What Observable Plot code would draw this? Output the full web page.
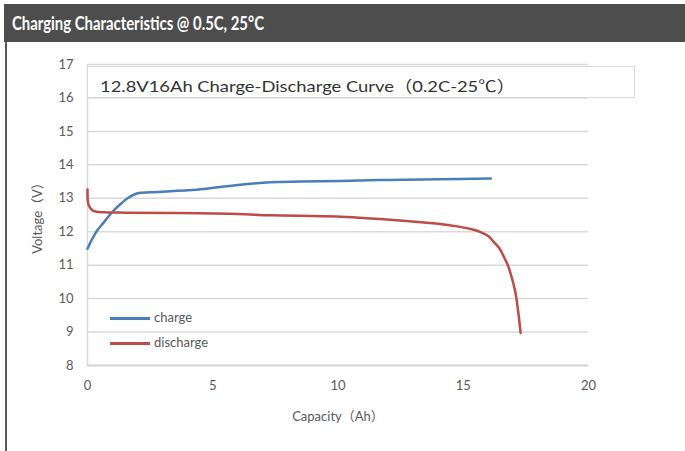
<!DOCTYPE html>
<html>
<head>
<meta charset="utf-8">
<script src="https://cdn.jsdelivr.net/npm/d3@7"></script>
<script src="https://cdn.jsdelivr.net/npm/@observablehq/plot@0.6"></script>
<style>
  html, body { margin: 0; padding: 0; background: #fff; }
  #page { position: relative; width: 685px; height: 451px; overflow: hidden; font-family: Lato, "Noto Sans CJK SC", sans-serif; }
  #header { position: absolute; left: 4px; top: 4px; width: 681px; height: 38px; background: #4d4d4d; }
  #header span { position: absolute; left: 8px; top: 7px; color: #fff; font-weight: bold; font-size: 19px; white-space: nowrap; transform-origin: 0 0; }
  #lborder { position: absolute; left: 5px; top: 42px; width: 2px; height: 409px; background: #595959; }
  #chart { position: absolute; left: 0; top: 42px; }
  #titlebox { position: absolute; left: 87px; top: 66px; width: 548px; height: 32px; border: 1px solid #d9d9d9; background: #fff; box-sizing: border-box; }
  #titlebox span { position: absolute; left: 12px; top: 6px; color: #333; font-size: 16px; white-space: nowrap; transform-origin: 0 0; }
  .leg { position: absolute; left: 110px; height: 16px; font-size: 13px; color: #595959; }
  .leg i { position: absolute; left: 0; top: 7px; width: 40px; height: 3px; }
  .leg span { position: absolute; left: 44px; top: -1px; white-space: nowrap; }
</style>
</head>
<body>
<div id="page">
  <div id="header"><span id="htxt"></span></div>
  <div id="lborder"></div>
  <div id="chart"></div>
  <div id="titlebox"><span id="ttxt"></span></div>
</div>
<script>
const headerTitle = "Charging Characteristics @ 0.5C, 25°C";
const chartTitle = "12.8V16Ah Charge-Discharge Curve（0.2C-25℃）";
const xLabel = "Capacity（Ah）";
const yLabel = "Voltage（V）";
const xTicks = [0, 5, 10, 15, 20];
const yTicks = [8, 9, 10, 11, 12, 13, 14, 15, 16, 17];
const seriesNames = ["charge", "discharge"];
const seriesColors = ["#4a7ebb", "#be4b48"];

const chargeCapacity = [0, 0.2, 0.4, 0.65, 1.0, 1.32, 1.6, 2.0, 2.5, 3.3, 4.0, 4.65, 5.3, 6.0, 7.3, 8.5, 10.1, 12.0, 14.0, 16.1];
const chargeVoltage  = [11.49, 11.8, 12.05, 12.28, 12.6, 12.83, 13.0, 13.15, 13.18, 13.21, 13.24, 13.28, 13.34, 13.40, 13.48, 13.5, 13.52, 13.55, 13.57, 13.59];

const dischargeCapacity = [0, 0.01, 0.05, 0.19, 0.35, 0.65, 1.5, 3.3, 6.0, 7.3, 10.1, 12.76, 14.0, 14.76, 15.3, 15.69, 16.0, 16.22, 16.45, 16.62, 16.78, 16.89, 17.0, 17.09, 17.16, 17.22, 17.29];
const dischargeVoltage  = [13.26, 12.94, 12.79, 12.64, 12.6, 12.58, 12.57, 12.56, 12.53, 12.49, 12.45, 12.32, 12.24, 12.16, 12.08, 11.99, 11.87, 11.69, 11.5, 11.25, 11.0, 10.75, 10.45, 10.15, 9.8, 9.45, 8.97];

const rows = [];
chargeCapacity.forEach((c, i) => rows.push({series: seriesNames[0], cap: c, v: chargeVoltage[i]}));
dischargeCapacity.forEach((c, i) => rows.push({series: seriesNames[1], cap: c, v: dischargeVoltage[i]}));

const chart = Plot.plot({
  width: 685,
  height: 409,
  marginLeft: 87,
  marginRight: 97,
  marginTop: 22,
  marginBottom: 86,
  style: {fontFamily: "Lato, 'Noto Sans CJK SC', sans-serif", fontSize: "13px", color: "#595959", background: "transparent"},
  x: {domain: [0, 20]},
  y: {domain: [8, 17]},
  color: {domain: seriesNames, range: seriesColors},
  marks: [
    Plot.gridY(yTicks, {stroke: "#d9d9d9", strokeOpacity: 1, strokeWidth: 1.5}),
    Plot.ruleX([0], {stroke: "#d9d9d9", strokeWidth: 1.5}),
    Plot.ruleY([8], {stroke: "#d0d0d0", strokeWidth: 1.5}),
    Plot.axisX(xTicks, {tickSize: 0, tickPadding: 15, fontSize: 13, label: xLabel, labelAnchor: "center", labelOffset: 55, labelArrow: "none", fill: "#595959"}),
    Plot.axisY(yTicks, {tickSize: 0, tickPadding: 14, fontSize: 13, label: yLabel, labelAnchor: "center", labelOffset: 55, labelArrow: "none", fill: "#595959"}),
    Plot.line(rows, {x: "cap", y: "v", z: "series", stroke: "series", strokeWidth: 2.5, curve: "catmull-rom"})
  ]
});
document.getElementById("chart").appendChild(chart);

// legend (inside plot area)
const page = document.getElementById("page");
const legendTops = [310, 335];
seriesNames.forEach((name, i) => {
  const d = document.createElement("div");
  d.className = "leg";
  d.style.top = legendTops[i] + "px";
  d.innerHTML = `<i style="background:${seriesColors[i]}"></i><span>${name}</span>`;
  page.appendChild(d);
});

function fit(el, text, target) {
  el.textContent = text;
  const w = el.getBoundingClientRect().width;
  if (w > 0) el.style.transform = `scaleX(${target / w})`;
}
fit(document.getElementById("htxt"), headerTitle, 252);
fit(document.getElementById("ttxt"), chartTitle, 415);
</script>
</body>
</html>
